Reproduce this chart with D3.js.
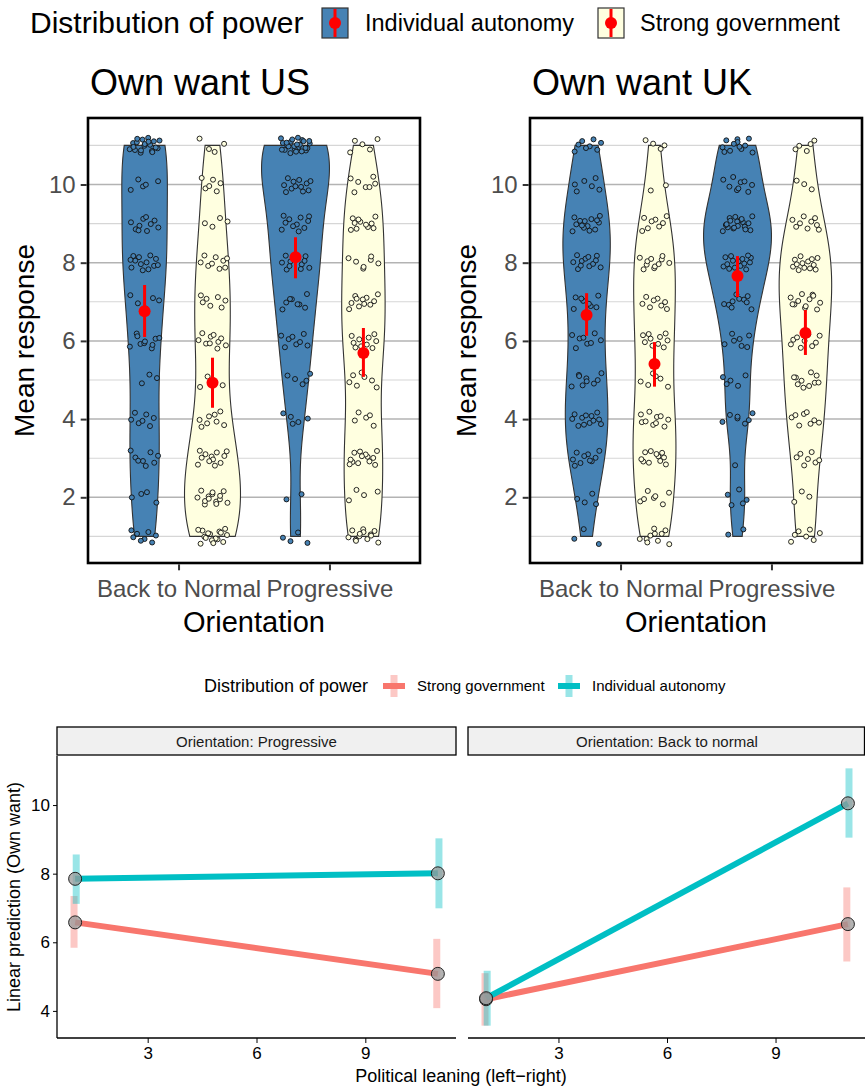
<!DOCTYPE html>
<html lang="en">
<head>
<meta charset="UTF-8">
<title>Own want: violins and linear predictions</title>
<script src="https://cdn.jsdelivr.net/npm/d3@7"></script>
<style>
  body { margin: 0; background: #fff; }
  text { font-family: "Liberation Sans", Arial, Helvetica, sans-serif; }
</style>
</head>
<body>
<div id="container"></div>
<script>
// ---- data ----
const levels = [1, 2, 3, 4, 5, 6, 7, 8, 9, 10, 11];
const orientations = ["Back to Normal", "Progressive"];
const powerGroups = ["Individual autonomy", "Strong government"];
const topTicks = [2, 4, 6, 8, 10];

// number of responses at each level 1..11 (counted from the jittered points)
const usBackIndividual = [8, 4, 8, 7, 3, 10, 5, 13, 10, 5, 20];
const usBackStrong     = [16, 14, 12, 8, 4, 10, 7, 9, 4, 6, 4];
const usProgIndividual = [4, 2, 0, 5, 5, 8, 8, 12, 11, 12, 25];
const usProgStrong     = [13, 4, 13, 5, 7, 10, 11, 7, 11, 7, 5];
const ukBackIndividual = [3, 4, 10, 12, 9, 8, 8, 12, 14, 6, 8];
const ukBackStrong     = [10, 7, 11, 10, 6, 10, 8, 11, 8, 2, 4];
const ukProgIndividual = [2, 5, 1, 7, 5, 7, 10, 15, 19, 9, 12];
const ukProgStrong     = [7, 3, 7, 8, 10, 9, 12, 13, 9, 3, 5];

// means and confidence limits: BtN/indiv, BtN/strong, Prog/indiv, Prog/strong
const usMean = [6.76, 4.93, 8.14, 5.69];
const usLow  = [6.10, 4.29, 7.60, 5.08];
const usHigh = [7.43, 5.57, 8.65, 6.33];
const ukMean = [6.66, 5.41, 7.66, 6.20];
const ukLow  = [6.13, 4.83, 7.12, 5.64];
const ukHigh = [7.22, 5.97, 8.17, 6.79];

// bottom chart: linear predictions at political leaning 1 and 11
const facets = ["Orientation: Progressive", "Orientation: Back to normal"];
const leaning = [1, 11];
const leaningTicks = [3, 6, 9];
const predTicks = [4, 6, 8, 10];
const lineGroups = ["Strong government", "Individual autonomy"];
const progStrong     = [6.58, 5.08];
const progStrongLow  = [5.84, 4.08];
const progStrongHigh = [7.35, 6.10];
const progIndiv      = [7.85, 8.01];
const progIndivLow   = [7.12, 6.99];
const progIndivHigh  = [8.56, 9.03];
const backStrong     = [4.34, 6.53];
const backStrongLow  = [3.57, 5.44];
const backStrongHigh = [5.10, 7.60];
const backIndiv      = [4.37, 10.05];
const backIndivLow   = [3.57, 9.05];
const backIndivHigh  = [5.17, 11.07];

// ---- setup ----
const width = 865, height = 1086;
const fillIA = "#4682b4", fillSG = "#ffffe0";
const groupFill = [fillIA, fillSG];
const lineColor = ["#f8766d", "#00bfc4"];

const svg = d3.select("#container").append("svg")
  .attr("width", width).attr("height", height);

// top legend
const leg = svg.append("g");
leg.append("text").attr("x", 30).attr("y", 33).attr("font-size", 30).text("Distribution of power");
[[322, 365], [598, 640]].forEach(([kx, tx], i) => {
  leg.append("rect").attr("x", kx).attr("y", 8).attr("width", 26).attr("height", 30)
    .attr("fill", groupFill[i]).attr("stroke", "#333").attr("stroke-width", 1.2);
  leg.append("line").attr("x1", kx + 13).attr("x2", kx + 13).attr("y1", 9).attr("y2", 37)
    .attr("stroke", "red").attr("stroke-width", 3);
  leg.append("circle").attr("cx", kx + 13).attr("cy", 23).attr("r", 6).attr("fill", "red");
  leg.append("text").attr("x", tx).attr("y", 31).attr("font-size", 23.5).text(powerGroups[i]);
});

// ---- violin panels ----
function bwNrd0(values) {
  const sd = d3.deviation(values);
  const iqr = d3.quantile(values, 0.75) - d3.quantile(values, 0.25);
  return 0.9 * Math.min(sd, iqr / 1.34) * Math.pow(values.length, -0.2);
}

function densityOf(counts) {
  const values = [];
  counts.forEach((c, k) => { for (let j = 0; j < c; j++) values.push(levels[k]); });
  values.sort(d3.ascending);
  const bw = bwNrd0(values);
  const lo = d3.min(values), hi = d3.max(values);
  const n = values.length;
  const grid = d3.range(0, 121).map(i => lo + (hi - lo) * i / 120);
  return grid.map(v => {
    let s = 0;
    counts.forEach((c, k) => {
      const z = (v - levels[k]) / bw;
      s += c * Math.exp(-0.5 * z * z);
    });
    return { v, d: s / (n * bw * Math.sqrt(2 * Math.PI)) };
  });
}

// low-discrepancy spread so stacked responses don't sit on top of each other
function halton(i, base) {
  let f = 1, r = 0;
  while (i > 0) { f /= base; r += f * (i % base); i = Math.floor(i / base); }
  return r;
}

function violinPanel(left, title, countsList, mean, low, high) {
  const top = 118, bottom = 563, right = left + 332;
  const g = svg.append("g");
  const x = d3.scaleLinear().domain([0.4, 2.6]).range([left, right]);
  const y = d3.scaleLinear().domain([0.32, 11.7]).range([bottom, top]);
  const unit = x(1) - x(0);
  const dodge = [-0.225, 0.225];

  g.append("text").attr("x", left + 2).attr("y", 95).attr("font-size", 36).text(title);

  // grid
  const minors = [1, 3, 5, 7, 9, 11];
  g.selectAll(".minor").data(minors).join("line")
    .attr("x1", left).attr("x2", right).attr("y1", d => y(d)).attr("y2", d => y(d))
    .attr("stroke", "#d6d6d6").attr("stroke-width", 1.1);
  g.selectAll(".major").data(topTicks).join("line")
    .attr("x1", left).attr("x2", right).attr("y1", d => y(d)).attr("y2", d => y(d))
    .attr("stroke", "#b3b3b3").attr("stroke-width", 1.5);

  const cells = [];
  orientations.forEach((o, oi) => powerGroups.forEach((p, pi) => {
    cells.push({ oi, pi, counts: countsList[oi * 2 + pi], idx: oi * 2 + pi,
      cx: x(oi + 1 + dodge[pi]) });
  }));
  cells.forEach(c => c.dens = densityOf(c.counts));
  const maxD = d3.max(cells, c => d3.max(c.dens, d => d.d));
  const halfMax = 0.225 * unit;

  cells.forEach(c => {
    const area = d3.area()
      .x0(d => c.cx - d.d / maxD * halfMax)
      .x1(d => c.cx + d.d / maxD * halfMax)
      .y(d => y(d.v));
    g.append("path").attr("d", area(c.dens))
      .attr("fill", groupFill[c.pi]).attr("stroke", "#333").attr("stroke-width", 1.1);
  });

  // points
  cells.forEach(c => {
    const pts = [];
    c.counts.forEach((cnt, k) => {
      const off = 1 + k * 37 + c.idx * 211 + (left > 300 ? 997 : 0);
      for (let j = 0; j < cnt; j++) {
        pts.push({
          px: c.cx + (2 * halton(off + j, 2) - 1) * 0.1 * unit,
          v: levels[k] + (2 * halton(off + j, 3) - 1) * 0.2
        });
      }
    });
    g.selectAll(null).data(pts).join("circle")
      .attr("cx", d => d.px).attr("cy", d => y(d.v)).attr("r", 2.5)
      .attr("fill", groupFill[c.pi]).attr("stroke", "#111").attr("stroke-width", 0.9);
  });

  // mean and interval
  cells.forEach(c => {
    g.append("line").attr("x1", c.cx).attr("x2", c.cx)
      .attr("y1", y(low[c.idx])).attr("y2", y(high[c.idx]))
      .attr("stroke", "red").attr("stroke-width", 3);
    g.append("circle").attr("cx", c.cx).attr("cy", y(mean[c.idx])).attr("r", 6).attr("fill", "red");
  });

  // border
  g.append("rect").attr("x", left).attr("y", top).attr("width", right - left).attr("height", bottom - top)
    .attr("fill", "none").attr("stroke", "#000").attr("stroke-width", 2.6);

  // axes
  const ya = g.append("g").attr("transform", `translate(${left - 1.3},0)`)
    .call(d3.axisLeft(y).tickValues(topTicks).tickSize(6).tickPadding(5));
  ya.select(".domain").remove();
  ya.selectAll("line").attr("stroke", "#333").attr("stroke-width", 2);
  ya.selectAll("text").attr("font-size", 24).attr("fill", "#4d4d4d")
    .attr("font-family", "Liberation Sans, Arial, sans-serif");

  const xa = g.append("g").attr("transform", `translate(0,${bottom + 1.3})`)
    .call(d3.axisBottom(x).tickValues([1, 2]).tickFormat(d => orientations[d - 1]).tickSize(6).tickPadding(10));
  xa.select(".domain").remove();
  xa.selectAll("line").attr("stroke", "#333").attr("stroke-width", 2);
  xa.selectAll("text").attr("font-size", 24).attr("fill", "#4d4d4d")
    .attr("font-family", "Liberation Sans, Arial, sans-serif");

  g.append("text").attr("x", (left + right) / 2).attr("y", 632).attr("text-anchor", "middle")
    .attr("font-size", 29).text("Orientation");
  g.append("text").attr("transform", `translate(${left - 54},${(top + bottom) / 2}) rotate(-90)`)
    .attr("text-anchor", "middle").attr("font-size", 28).text("Mean response");
}

violinPanel(88, "Own want US",
  [usBackIndividual, usBackStrong, usProgIndividual, usProgStrong], usMean, usLow, usHigh);
violinPanel(530, "Own want UK",
  [ukBackIndividual, ukBackStrong, ukProgIndividual, ukProgStrong], ukMean, ukLow, ukHigh);

// ---- bottom chart ----
const bl = svg.append("g");
bl.append("text").attr("x", 204).attr("y", 692).attr("font-size", 18).text("Distribution of power");
[[383, 417], [558, 592]].forEach(([kx, tx], i) => {
  bl.append("line").attr("x1", kx + 11).attr("x2", kx + 11).attr("y1", 675).attr("y2", 697)
    .attr("stroke", lineColor[i]).attr("stroke-opacity", 0.4).attr("stroke-width", 7);
  bl.append("line").attr("x1", kx).attr("x2", kx + 22).attr("y1", 686).attr("y2", 686)
    .attr("stroke", lineColor[i]).attr("stroke-width", 6);
  bl.append("text").attr("x", tx).attr("y", 691).attr("font-size", 15).text(lineGroups[i]);
});

const yB = d3.scaleLinear().domain([3.21, 11.43]).range([1038, 756]);
const facetData = [
  { left: 57, right: 456, series: [
      { m: progStrong, lo: progStrongLow, hi: progStrongHigh },
      { m: progIndiv, lo: progIndivLow, hi: progIndivHigh }] },
  { left: 468, right: 866, series: [
      { m: backStrong, lo: backStrongLow, hi: backStrongHigh },
      { m: backIndiv, lo: backIndivLow, hi: backIndivHigh }] }
];

facetData.forEach((f, fi) => {
  const g = svg.append("g");
  const x = d3.scaleLinear().domain([0.5, 11.5]).range([f.left, f.right]);

  // strip
  g.append("rect").attr("x", f.left).attr("y", 727).attr("width", Math.min(f.right, 864.5) - f.left).attr("height", 28)
    .attr("fill", "#f0f0f0").attr("stroke", "#000").attr("stroke-width", 1.3);
  g.append("text").attr("x", (f.left + f.right) / 2).attr("y", 747).attr("text-anchor", "middle")
    .attr("font-size", 15).attr("fill", "#1a1a1a").text(facets[fi]);

  // intervals
  const dodge = [-0.03, 0.03];
  f.series.forEach((s, si) => {
    g.selectAll(null).data(leaning).join("line")
      .attr("x1", d => x(d + dodge[si])).attr("x2", d => x(d + dodge[si]))
      .attr("y1", (d, i) => yB(s.lo[i])).attr("y2", (d, i) => yB(s.hi[i]))
      .attr("stroke", lineColor[si]).attr("stroke-opacity", 0.4).attr("stroke-width", 7);
  });
  // lines
  f.series.forEach((s, si) => {
    const line = d3.line().x(d => x(d)).y((d, i) => yB(s.m[i]));
    g.append("path").attr("d", line(leaning)).attr("fill", "none")
      .attr("stroke", lineColor[si]).attr("stroke-width", 6);
  });
  // points
  f.series.forEach((s) => {
    g.selectAll(null).data(leaning).join("circle")
      .attr("cx", d => x(d)).attr("cy", (d, i) => yB(s.m[i])).attr("r", 6.5)
      .attr("fill", "#9a9a9a").attr("fill-opacity", 0.75)
      .attr("stroke", "#222").attr("stroke-width", 1);
  });

  const xa = g.append("g").attr("transform", "translate(0,1038)")
    .call(d3.axisBottom(x).tickValues(leaningTicks).tickSize(5).tickPadding(4));
  xa.select(".domain").attr("stroke-width", 1.3).attr("d", `M${f.left},0H${f.right}`);
  xa.selectAll("text").attr("font-size", 17).attr("fill", "#000")
    .attr("font-family", "Liberation Sans, Arial, sans-serif");

  if (fi === 0) {
    const ya = g.append("g").attr("transform", `translate(${f.left},0)`)
      .call(d3.axisLeft(yB).tickValues(predTicks).tickSize(4).tickPadding(3));
    ya.select(".domain").attr("stroke-width", 1.3).attr("d", "M0,756V1038");
    ya.selectAll("text").attr("font-size", 17).attr("fill", "#000")
      .attr("font-family", "Liberation Sans, Arial, sans-serif");
  }
});

svg.append("text").attr("x", 461).attr("y", 1082).attr("text-anchor", "middle")
  .attr("font-size", 18).text("Political leaning (left\u2212right)");
svg.append("text").attr("transform", "translate(20,897) rotate(-90)").attr("text-anchor", "middle")
  .attr("font-size", 18).text("Linear prediction (Own want)");
</script>
</body>
</html>
